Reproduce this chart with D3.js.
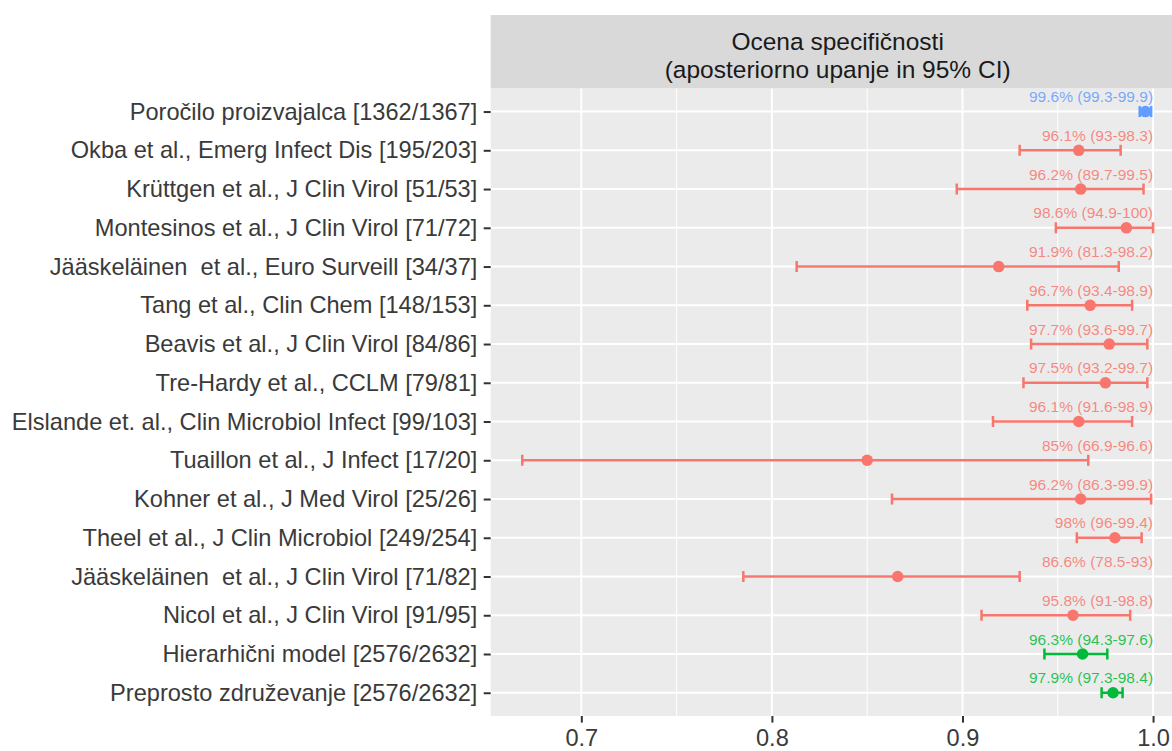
<html>
<head>
<meta charset="utf-8">
<script src="https://d3js.org/d3.v7.min.js"></script>
<style>
  body { margin: 0; background: #fff; }
  text { font-family: "Liberation Sans", Arial, sans-serif; }
  .axis .domain { stroke: none; }
  .axis line { stroke: #333; stroke-width: 2px; }
  .axis text { fill: #3a3a3a; font-size: 23.6px; }
</style>
</head>
<body>
<script>
// rows, top to bottom
const studies = [
  "Poročilo proizvajalca [1362/1367]",
  "Okba et al., Emerg Infect Dis [195/203]",
  "Krüttgen et al., J Clin Virol [51/53]",
  "Montesinos et al., J Clin Virol [71/72]",
  "Jääskeläinen  et al., Euro Surveill [34/37]",
  "Tang et al., Clin Chem [148/153]",
  "Beavis et al., J Clin Virol [84/86]",
  "Tre-Hardy et al., CCLM [79/81]",
  "Elslande et. al., Clin Microbiol Infect [99/103]",
  "Tuaillon et al., J Infect [17/20]",
  "Kohner et al., J Med Virol [25/26]",
  "Theel et al., J Clin Microbiol [249/254]",
  "Jääskeläinen  et al., J Clin Virol [71/82]",
  "Nicol et al., J Clin Virol [91/95]",
  "Hierarhični model [2576/2632]",
  "Preprosto združevanje [2576/2632]"
];
// posterior mean and 95% CI, in %
const means = [99.6, 96.1, 96.2, 98.6, 91.9, 96.7, 97.7, 97.5, 96.1, 85, 96.2, 98, 86.6, 95.8, 96.3, 97.9];
const lows  = [99.3, 93, 89.7, 94.9, 81.3, 93.4, 93.6, 93.2, 91.6, 66.9, 86.3, 96, 78.5, 91, 94.3, 97.3];
const highs = [99.9, 98.3, 99.5, 100, 98.2, 98.9, 99.7, 99.7, 98.9, 96.6, 99.9, 99.4, 93, 98.8, 97.6, 98.4];
const groups = ["proizvajalec", "studija", "studija", "studija", "studija", "studija", "studija", "studija",
                "studija", "studija", "studija", "studija", "studija", "studija", "model", "model"];
const xTicks = [0.7, 0.8, 0.9, 1.0];
const xMinor = [0.75, 0.85, 0.95];
const stripLines = ["Ocena specifičnosti", "(aposteriorno upanje in 95% CI)"];

const colors = {proizvajalec: "#619CFF", studija: "#F8766D", model: "#00BA38"};

const W = 1172, H = 751;
const panel = {left: 490.7, right: 1184.6, top: 88.3, bottom: 716};
const strip = {top: 15, bottom: 88.3};

const rows = studies.map((s, i) => ({
  name: s, mean: means[i] / 100, lo: lows[i] / 100, hi: highs[i] / 100, group: groups[i],
  label: `${means[i]}% (${lows[i]}-${highs[i]})`
}));

// ggplot-like 5% expansion of the data range
const ext = [d3.min(rows, d => d.lo), d3.max(rows, d => d.hi)];
const pad = (ext[1] - ext[0]) * 0.05;
const x = d3.scaleLinear().domain([ext[0] - pad, ext[1] + pad]).range([panel.left, panel.right]);
const y = d3.scalePoint().domain(studies).range([panel.top, panel.bottom]).padding(0.6);

const svg = d3.select("body").append("svg").attr("width", W).attr("height", H);

// panel bg
svg.append("rect")
  .attr("x", panel.left).attr("y", panel.top)
  .attr("width", panel.right - panel.left).attr("height", panel.bottom - panel.top)
  .attr("fill", "#EBEBEB");

// grid
svg.selectAll(".minor").data(xMinor).join("line")
  .attr("x1", d => x(d)).attr("x2", d => x(d))
  .attr("y1", panel.top).attr("y2", panel.bottom)
  .attr("stroke", "#fff").attr("stroke-width", 1);
svg.selectAll(".major").data(xTicks).join("line")
  .attr("x1", d => x(d)).attr("x2", d => x(d))
  .attr("y1", panel.top).attr("y2", panel.bottom)
  .attr("stroke", "#fff").attr("stroke-width", 2);
svg.selectAll(".hgrid").data(studies).join("line")
  .attr("x1", panel.left).attr("x2", panel.right)
  .attr("y1", d => y(d)).attr("y2", d => y(d))
  .attr("stroke", "#fff").attr("stroke-width", 2);

// strip
svg.append("rect")
  .attr("x", panel.left).attr("y", strip.top)
  .attr("width", panel.right - panel.left).attr("height", strip.bottom - strip.top)
  .attr("fill", "#D9D9D9");
svg.append("text")
  .attr("text-anchor", "middle")
  .attr("fill", "#1A1A1A").attr("font-size", "24.5px")
  .selectAll("tspan").data(stripLines).join("tspan")
  .attr("x", (panel.left + panel.right) / 2)
  .attr("y", (d, i) => 50 + i * 28)
  .text(d => d);

// error bars
const cap = 5.5;
const g = svg.append("g");
rows.forEach(d => {
  const c = colors[d.group], yy = y(d.name);
  g.append("line").attr("x1", x(d.lo)).attr("x2", x(d.hi)).attr("y1", yy).attr("y2", yy)
    .attr("stroke", c).attr("stroke-width", 2.5);
  [d.lo, d.hi].forEach(v => {
    g.append("line").attr("x1", x(v)).attr("x2", x(v)).attr("y1", yy - cap).attr("y2", yy + cap)
      .attr("stroke", c).attr("stroke-width", 2.5);
  });
  g.append("circle").attr("cx", x(d.mean)).attr("cy", yy).attr("r", 5.8).attr("fill", c);
  g.append("text").attr("x", x(1.0)).attr("y", yy - 9.5)
    .attr("text-anchor", "end").attr("font-size", "15.5px")
    .attr("fill", c).attr("fill-opacity", 0.85)
    .text(d.label);
});

// axes
svg.append("g").attr("class", "axis")
  .attr("transform", `translate(${panel.left},0)`)
  .call(d3.axisLeft(y).tickSize(7).tickPadding(6.4))
  .selectAll("text").style("white-space", "pre");

svg.append("g").attr("class", "axis")
  .attr("transform", `translate(0,${panel.bottom})`)
  .call(d3.axisBottom(x).tickValues(xTicks).tickFormat(d3.format(".1f")).tickSize(6.6).tickPadding(7));
</script>
</body>
</html>
